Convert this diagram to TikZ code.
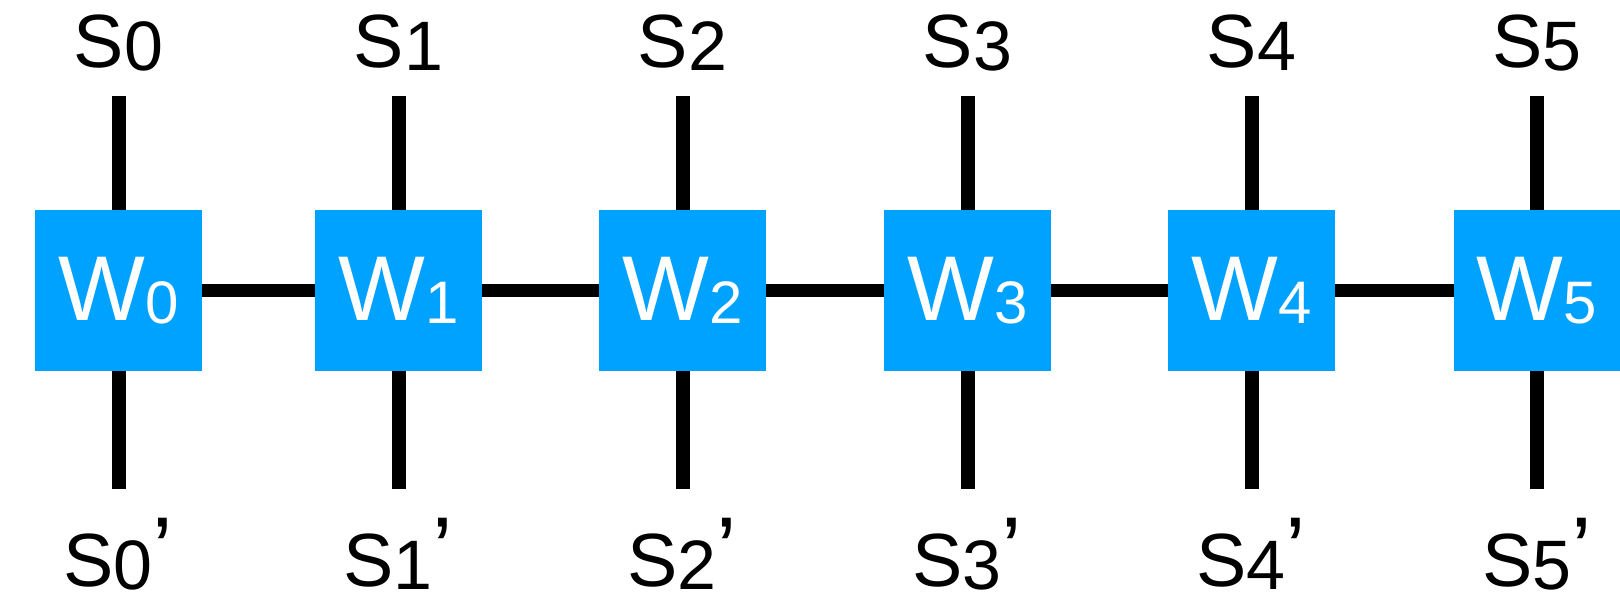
\documentclass[tikz,border=0pt]{standalone}
\usepackage{fontspec}
\setmainfont{Liberation Sans}
\definecolor{wblue}{RGB}{0,162,255}
\newcommand{\toplab}[1]{{\fontsize{37.7pt}{40pt}\selectfont S\fontsize{35pt}{40pt}\selectfont\raisebox{-1.5pt}{#1}}}
\newcommand{\botlab}[1]{\toplab{#1}{\fontsize{46pt}{40pt}\selectfont\raisebox{2.5pt}{’}}}
\newcommand{\wlab}[1]{{\fontsize{46pt}{50pt}\selectfont W\fontsize{30pt}{40pt}\selectfont\raisebox{-1.5pt}{#1}}}
\begin{document}
\begin{tikzpicture}[x=0.5pt,y=-0.5pt,
 wbox/.style={fill=wblue, text=white, minimum width=83.5pt, minimum height=80.5pt, inner sep=0pt, outer sep=0pt},
 lab/.style={anchor=base, inner sep=0pt, text=black},
 wire/.style={line width=7pt, black},
 hwire/.style={line width=6.5pt, black}]
\useasboundingbox (0,0) rectangle (1620,598);
\foreach \i/\x in {0/118.5,1/398.5,2/682.5,3/967.5,4/1251.5,5/1537}{
  \node[wbox] (W\i) at (\x,290.5) {\wlab{\i}};
  \node[lab] (S\i) at (\x,68) {\toplab{\i}};
  \node[lab] (T\i) at (\x,586) {\botlab{\i}};
  \coordinate (a\i) at (\x,96);
  \coordinate (b\i) at (\x,489);
  \draw[wire] (a\i) -- (W\i.north);
  \draw[wire] (W\i.south) -- (b\i);
}
\foreach \i/\j in {0/1,1/2,2/3,3/4,4/5}{
  \draw[hwire] (W\i.east) -- (W\j.west);
}
\end{tikzpicture}
\end{document}
